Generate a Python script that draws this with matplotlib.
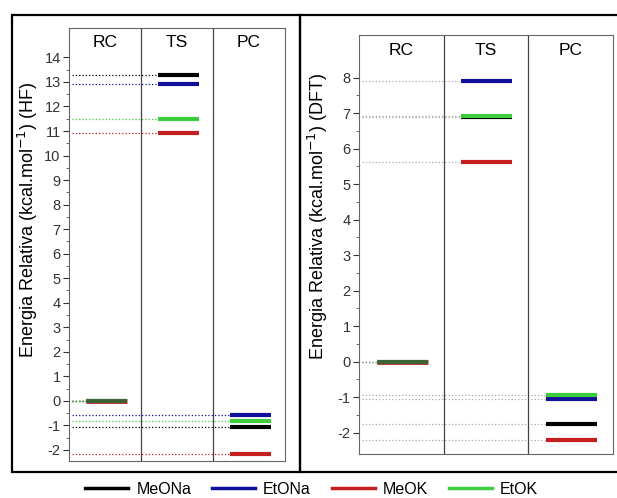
import matplotlib
matplotlib.use("Agg")
import matplotlib.pyplot as plt
from matplotlib.lines import Line2D
from matplotlib.patches import Rectangle

# dados
etapas = ["RC", "TS", "PC"]
series = ["MeONa", "EtONa", "MeOK", "EtOK"]
cores = ["#000000", "#10109a", "#c41e1e", "#3ccc3c"]
ordem_rc = ["MeOK", "EtONa", "MeONa", "EtOK"]  # ordem de sobreposicao em RC

# energias relativas (kcal/mol) por etapa: RC, TS, PC
hf = {
    "MeONa": [0.0, 13.3, -1.07],
    "EtONa": [0.0, 12.9, -0.57],
    "MeOK": [0.0, 10.9, -2.16],
    "EtOK": [0.0, 11.5, -0.80],
}
dft = {
    "MeONa": [0.0, 6.88, -1.76],
    "EtONa": [0.0, 7.91, -1.05],
    "MeOK": [0.0, 5.61, -2.20],
    "EtOK": [0.0, 6.92, -0.94],
}

plt.rcParams["font.family"] = ["Liberation Sans", "DejaVu Sans"]
plt.rcParams["axes.unicode_minus"] = False

fig = plt.figure(figsize=(6.17, 4.98), dpi=100)
ax1 = fig.add_axes([0.1118, 0.0743, 0.350, 0.8695])
ax2 = fig.add_axes([0.5818, 0.0884, 0.4117, 0.8414])
cor_de = dict(zip(series, cores))


def desenha(ax, dados, ylim, yticks, metodo, pontilhado, x0, x1, y_rotulo,
            label_xy):
    for nome, cor in zip(series, cores):
        vals = dados[nome]
        for i, v in enumerate(vals):
            c = cor if pontilhado is None else pontilhado
            ax.plot([0.04, i + x0], [v, v], color=c, lw=0.9, ls=":",
                    zorder=2)
            if i > 0:
                ax.plot([i + x0, i + x1], [v, v], color=cor, lw=3,
                        solid_capstyle="butt", zorder=3)
    # RC: todas as curvas sobrepostas
    for k, nome in enumerate(ordem_rc):
        v = dados[nome][0]
        ax.plot([x0, x1], [v, v], color=cor_de[nome], lw=3.4 if k == 0 else 3,
                alpha=1.0 if k == 0 else 0.45, solid_capstyle="butt", zorder=3)
    for i in (1, 2):
        ax.axvline(i, color="#444444", lw=0.9)
    for i, e in enumerate(etapas):
        ax.text(i + 0.5, y_rotulo, e, ha="center", va="center", fontsize=12.5)
    ax.set_xlim(0, 3)
    ax.set_ylim(*ylim)
    ax.set_xticks([])
    ax.set_yticks(yticks)
    ax.set_yticks([t + 0.5 for t in yticks[:-1]], minor=True)
    ax.tick_params(axis="y", which="major", length=4, labelsize=10.5,
                   colors="#333333", pad=2)
    ax.tick_params(axis="y", which="minor", length=2, colors="#555555")
    for s in ax.spines.values():
        s.set_color("#666666")
    ax.set_ylabel("Energia Relativa (kcal.mol$^{-1}$) (" + metodo + ")",
                  fontsize=13)
    ax.yaxis.set_label_coords(*label_xy)


desenha(ax1, hf, (-2.45, 15.2), list(range(-2, 15)), "HF", None,
        0.24, 0.80, 14.6, (-0.134, 0.557))
desenha(ax2, dft, (-2.6, 9.2), list(range(-2, 9)), "DFT", "#aaaaaa",
        0.21, 0.81, 8.75, (-0.114, 0.566))

# molduras externas
fig.add_artist(Rectangle((0.0194, 0.0522), 0.4666, 0.9177, fill=False,
                         lw=1.6, ec="black", transform=fig.transFigure))
fig.add_artist(Rectangle((0.486, 0.0522), 0.52, 0.9177, fill=False,
                         lw=1.6, ec="black", transform=fig.transFigure))

handles = [Line2D([], [], color=c, lw=2.5) for c in cores]
fig.legend(handles, series, loc="center", bbox_to_anchor=(0.505, 0.017),
           ncol=4, frameon=False, fontsize=11.5, handlelength=2.7,
           columnspacing=1.3, handletextpad=0.5, borderpad=0)

fig.savefig("out.png", dpi=100)
